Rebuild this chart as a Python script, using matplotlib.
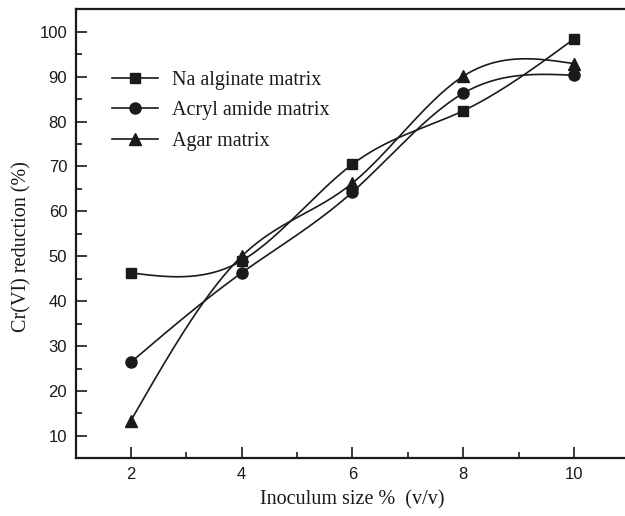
import numpy as np
import matplotlib
matplotlib.use("Agg")
import matplotlib.pyplot as plt
from matplotlib.lines import Line2D

inoculum = [2, 4, 6, 8, 10]
na_alginate = [46.3, 49.0, 70.5, 82.4, 98.4]
acryl_amide = [26.4, 46.3, 64.3, 86.3, 90.3]
agar = [13.4, 50.0, 66.3, 90.1, 92.9]
labels = ["Na alginate matrix", "Acryl amide matrix", "Agar matrix"]
xticks = [2, 4, 6, 8, 10]
yticks = [10, 20, 30, 40, 50, 60, 70, 80, 90, 100]


def natural_spline(x, y, n=300):
    x = np.asarray(x, float)
    y = np.asarray(y, float)
    m = len(x)
    h = np.diff(x)
    A = np.zeros((m, m))
    b = np.zeros(m)
    A[0, 0] = 1
    A[-1, -1] = 1
    for i in range(1, m - 1):
        A[i, i - 1] = h[i - 1]
        A[i, i] = 2 * (h[i - 1] + h[i])
        A[i, i + 1] = h[i]
        b[i] = 6 * ((y[i + 1] - y[i]) / h[i] - (y[i] - y[i - 1]) / h[i - 1])
    M = np.linalg.solve(A, b)
    xs = np.linspace(x[0], x[-1], n)
    ys = np.empty_like(xs)
    for k, xv in enumerate(xs):
        i = min(np.searchsorted(x, xv, side="right") - 1, m - 2)
        hi = h[i]
        t1 = x[i + 1] - xv
        t0 = xv - x[i]
        ys[k] = (M[i] * t1 ** 3 / (6 * hi) + M[i + 1] * t0 ** 3 / (6 * hi)
                 + (y[i] / hi - M[i] * hi / 6) * t1
                 + (y[i + 1] / hi - M[i + 1] * hi / 6) * t0)
    return xs, ys


fig = plt.figure(figsize=(6.25, 5.16), dpi=100)
W, H = 625, 516
left, right = 75.5, 629.4
bottom, top = 458.3, 9.3
ax = fig.add_axes([left / W, 1 - bottom / H, (right - left) / W, (bottom - top) / H])

series = [(na_alginate, "s", 7), (acryl_amide, "o", 8), (agar, "^", 8.5)]
handles = []
for (vals, mk, ms), lab in zip(series, labels):
    xs, ys = natural_spline(inoculum, vals)
    ax.plot(xs, ys, color="#1a1a1a", lw=1.2, zorder=2)
    ax.plot(inoculum, vals, linestyle="none", marker=mk, ms=ms,
            color="#1a1a1a", zorder=3)
    handles.append(Line2D([], [], color="#1a1a1a", lw=1.2, marker=mk, ms=ms))

ax.set_xlim(1, 11)
ax.set_ylim(5, 105)
ax.set_xticks(xticks)
ax.set_yticks(yticks)
ax.set_xticks([3, 5, 7, 9], minor=True)
ax.set_yticks([15, 25, 35, 45, 55, 65, 75, 85, 95], minor=True)
ax.tick_params(which="major", direction="in", length=8, width=1.2,
               labelsize=12, colors="#1a1a1a", pad=6)
ax.tick_params(which="minor", direction="in", length=4, width=1.2,
               colors="#1a1a1a")
for lab in ax.get_xticklabels() + ax.get_yticklabels():
    lab.set_fontfamily("Liberation Sans")
for s in ax.spines.values():
    s.set_linewidth(1.6)
    s.set_color("#1a1a1a")

serif = "Liberation Serif"
fig.text(352 / W, 1 - 500 / H, "Inoculum size %  (v/v)", ha="center",
         va="center", fontsize=14.5, family=serif, color="#1a1a1a")
fig.text(22 / W, 1 - 247 / H, "Cr(VI) reduction (%)", ha="center",
         va="center", rotation=90, fontsize=14.5, family=serif, color="#1a1a1a")

leg = ax.legend(handles, labels, loc="upper left",
                bbox_to_anchor=(0.066, 0.8635), frameon=False, borderpad=0,
                borderaxespad=0, handlelength=2.28, handletextpad=0.7,
                labelspacing=0.57, prop={"family": serif, "size": 14.5})
for t in leg.get_texts():
    t.set_color("#1a1a1a")

fig.savefig("out.png", dpi=100)
